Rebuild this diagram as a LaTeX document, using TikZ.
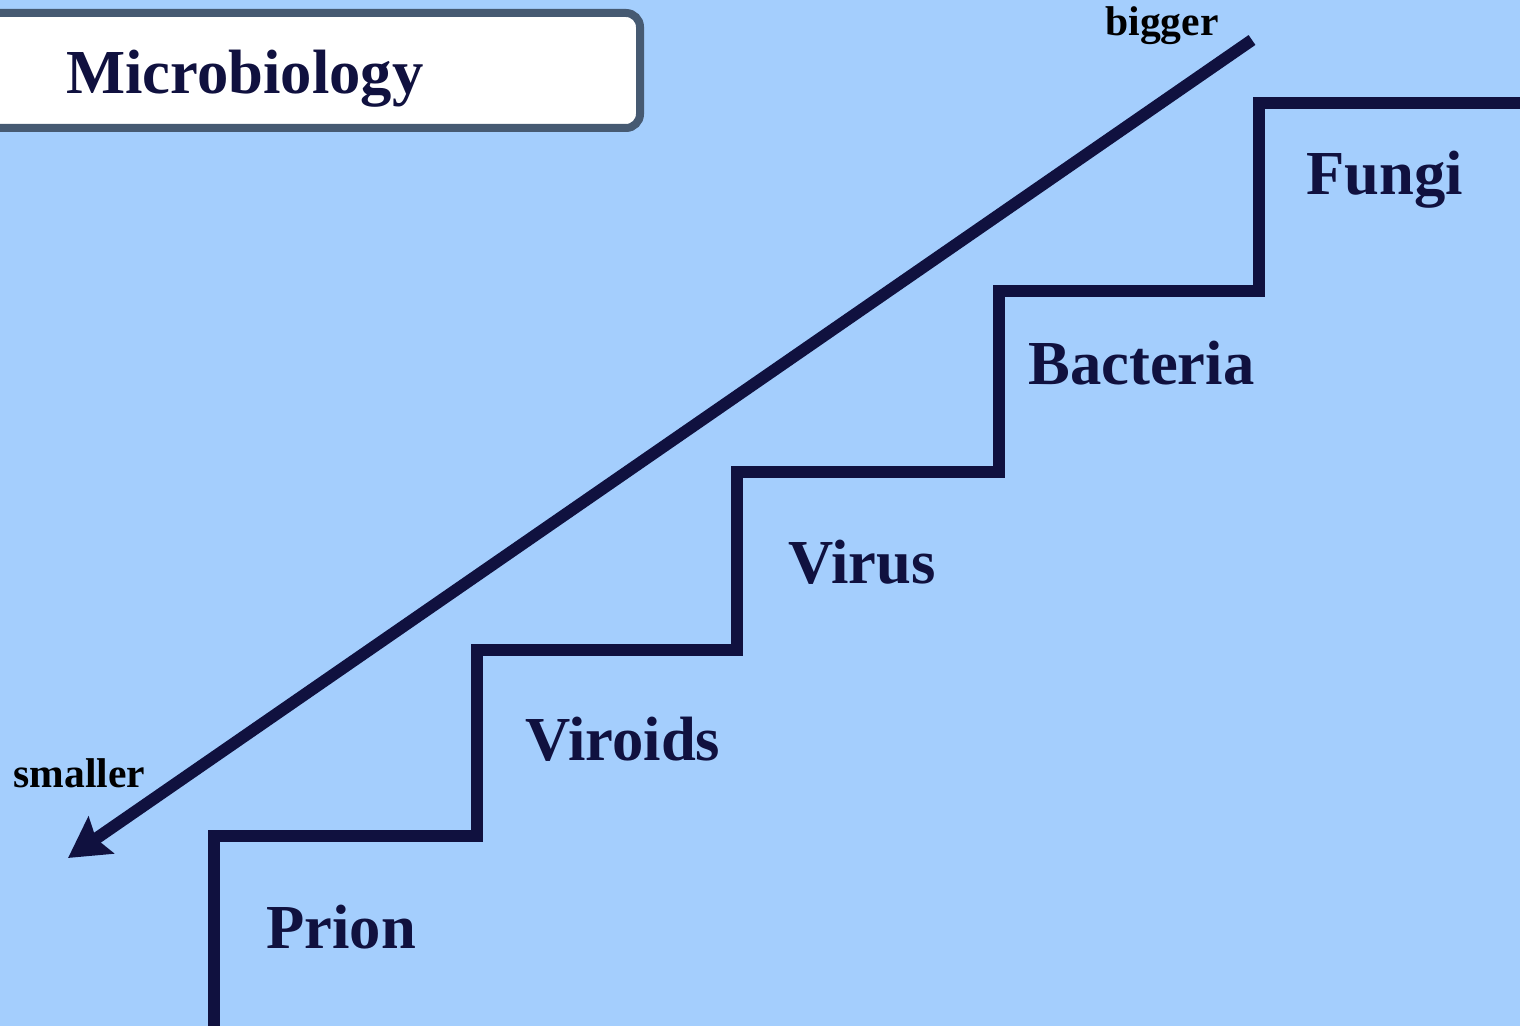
\documentclass[tikz,border=0pt]{standalone}
\usepackage{fontspec}
\setmainfont{Liberation Serif}
\usetikzlibrary{arrows.meta}
\definecolor{bgblue}{HTML}{A4CEFD}
\definecolor{navy}{HTML}{10113F}
\definecolor{boxedge}{HTML}{465A72}
\tikzset{
  biglabel/.style={anchor=base west, inner sep=0pt, text=navy, font=\fontsize{31.3pt}{33pt}\selectfont\bfseries},
  smalllabel/.style={anchor=base west, inner sep=0pt, text=black, font=\fontsize{20.8pt}{22pt}\selectfont\bfseries},
  stair/.style={draw=navy, line width=6pt, line join=miter},
}
\begin{document}
\begin{tikzpicture}[x=0.5pt, y=-0.5pt]
\fill[bgblue] (0,0) rectangle (1520,1026);
\useasboundingbox (0,0) rectangle (1520,1026);
% title box
\draw[boxedge, fill=white, line width=4pt, rounded corners=7pt] (-30,13) rectangle (640,128);
\node[biglabel] (title) at (66,94) {Microbiology};
% stairs
\draw[stair] (214,1040) -- (214,836) -- (477,836) -- (477,650) -- (737,650) -- (737,472) -- (999,472) -- (999,291) -- (1259,291) -- (1259,103) -- (1520,103);
% arrow
\coordinate (big) at (1252,40);
\coordinate (small) at (68,858);
\draw[navy, line width=6pt, -{Stealth[length=20pt, width=22pt, inset=3pt]}] (big) -- (small);
\node[smalllabel] (bigger) at (1105,36) {bigger};
\node[smalllabel] (smaller) at (13,787) {smaller};
% labels
\node[biglabel] (fungi) at (1306,195) {Fungi};
\node[biglabel] (bacteria) at (1028,385) {Bacteria};
\node[biglabel] (virus) at (788,583) {Virus};
\node[biglabel] (viroids) at (525,760) {Viroids};
\node[biglabel] (prion) at (266,948) {Prion};
\end{tikzpicture}
\end{document}
